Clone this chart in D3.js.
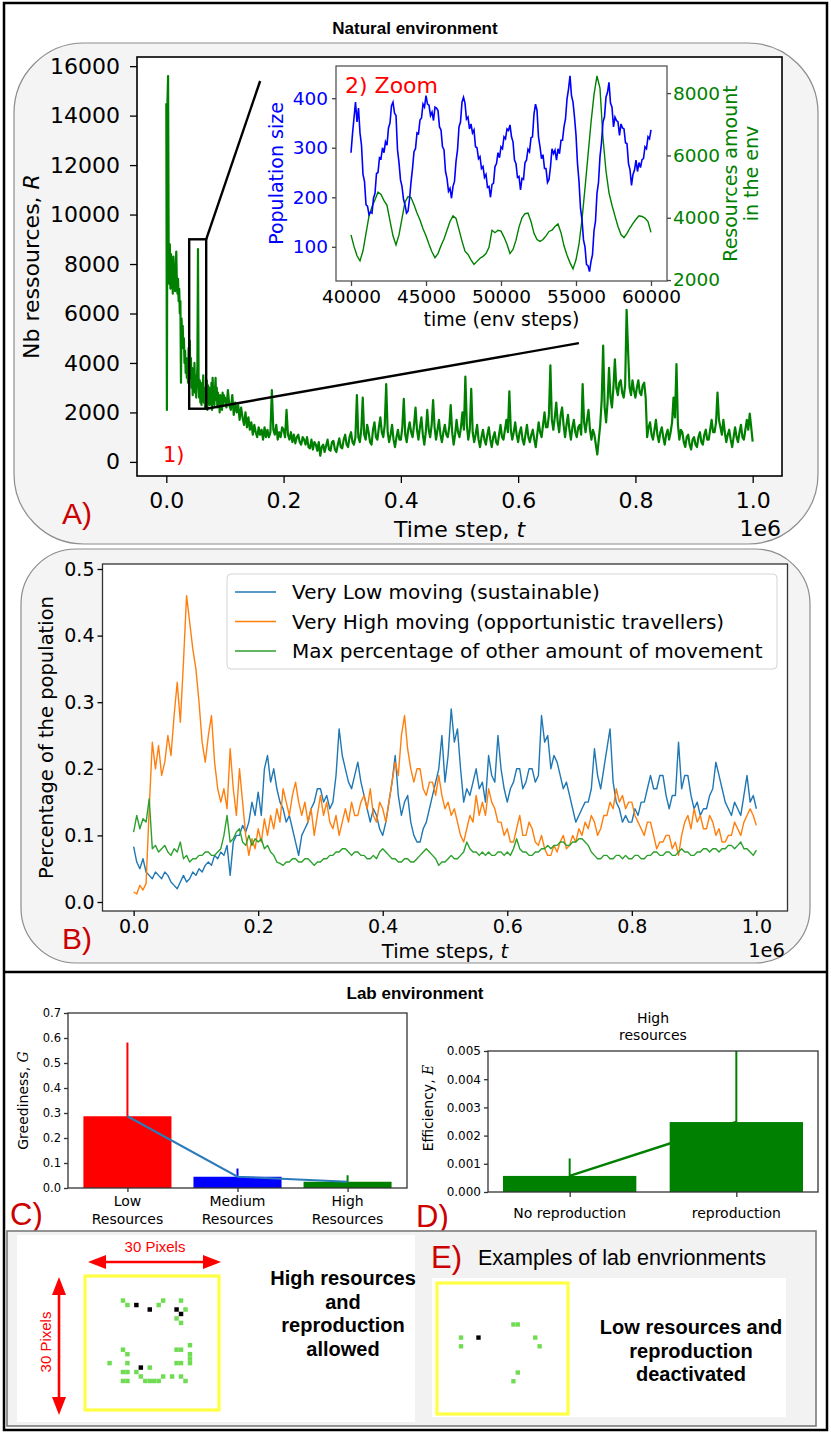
<!DOCTYPE html>
<html><head><meta charset="utf-8">
<script src="https://cdnjs.cloudflare.com/ajax/libs/d3/7.8.5/d3.min.js"></script>
<style>body{margin:0;background:#fff}svg{display:block}</style>
</head><body>
<svg id="fig" width="831" height="1435"></svg>
<script>
// ---------------- DATA ----------------
// Panel A: resources in the natural environment
const resEarlyStep = 1000;            // t = k*1000, k = 0..99
const resourcesEarly = [14500,2100,14600,15600,8500,7200,8800,7000,8400,7200,
 8000,6800,8300,7000,7800,6900,8000,8500,7200,6800,
 7400,6500,7000,6000,6500,3200,5800,5000,5500,4600,
 5000,4000,4500,3600,4200,3400,4000,3200,4600,3600,
 4900,3400,4200,3000,3800,2700,3600,2900,4000,2800,
 3500,2600,3200,3900,8600,3500,2600,3300,2400,3200,
 2300,3000,2600,3500,2400,3000,2200,2900,2500,3300,
 2100,3100,2600,3000,2300,2800,2400,3200,2100,3400,
 2600,3000,2300,2900,3400,2500,3000,2200,2800,2400,
 2600,2000,2700,2200,2500,2100,2800,2300,2700,2500];
const resLateStart = 100000, resLateStep = 2500;   // t = 100000 + k*2500
const resourcesLate = [2600,2200,2900,2300,2100,2700,1900,2400,2000,2300,
 1700,2200,1800,1500,2000,1400,1800,1300,1600,1100,
 1500,1200,1000,1400,1100,1300,900,1400,1000,1300,
 1000,1200,2900,1300,1100,1500,900,1200,1000,1400,
 1300,1000,2100,1100,900,1200,800,1100,750,1000,
 1100,800,700,1000,900,700,1000,600,550,900,
 500,800,700,450,800,250,600,700,400,650,
 900,500,450,800,850,500,400,700,950,600,
 550,900,1100,700,600,1000,1200,800,700,1000,
 2700,1000,800,1300,2600,1100,900,1500,1200,800,
 700,1300,1600,1000,900,1400,1800,1200,1000,1500,
 3150,1200,800,1100,1500,900,600,1000,1300,900,
 900,1400,2550,1100,800,1300,1600,1200,1000,1500,
 2200,1300,900,1400,1800,1100,700,1200,2100,1300,
 1000,1500,2500,1400,900,1300,1700,1100,800,1200,
 1500,1100,1000,1400,2300,1200,700,1100,1700,1200,
 1000,1400,2000,1300,3450,1500,900,1300,2950,1200,
 800,1100,1500,900,600,1000,1300,900,700,1100,
 1400,900,600,1000,1200,800,700,1100,1500,1000,
 900,1300,1700,1200,2850,1300,900,1200,1600,1100,
 800,1200,1400,900,700,1100,1500,1000,800,1100,
 1300,900,600,1100,1600,1200,1000,1500,2000,1400,
 1400,1900,3900,1700,1300,1800,2400,1600,1200,1900,
 2200,1500,1000,1500,1900,1300,900,1400,1700,1200,
 1000,1400,1500,1100,3150,1600,1200,1700,2100,1300,
 900,1300,1100,700,300,900,1500,2500,4700,2200,
 1600,2400,3800,2600,2200,3000,4150,3000,2700,3200,
 3300,2800,2600,3100,6150,4500,3000,2700,3300,2900,
 2600,3000,3300,2800,2700,3100,3200,2600,1000,1400,
 1600,1100,900,1300,1700,1100,800,1200,1400,1000,
 700,1100,1300,900,1200,1600,2600,1800,3950,1500,
 900,1300,1200,800,600,1000,1100,700,500,900,
 1000,700,600,1000,1200,800,700,1100,1300,900,
 900,1300,1700,1200,1200,1600,2800,1700,1400,1100,
 1700,1200,800,1100,1300,900,600,1000,1400,1000,
 800,1200,1500,1000,900,1300,1700,1300,1950,1400,
 820];
// Zoom box (time, resources) and connector end points
const zoomBox = {t0: 39000, t1: 68000, r0: 2150, r1: 9000};
const zoomLineEnds = [[160000, 15400], [703600, 4800]];

// Inset: 40000..60000 env steps
const popStart = 40000, popStep = 100;
const populationSize = [290,328,360,392,352,380,330,305,246,232,
 185,182,165,170,168,198,208,248,250,280,
 278,300,290,312,305,340,350,385,392,370,
 365,296,270,235,222,196,185,168,172,196,
 230,258,292,298,330,328,356,360,388,382,
 405,388,386,365,372,355,382,380,375,342,
 336,302,296,252,238,212,218,198,222,232,
 272,295,342,352,392,402,390,358,362,338,
 348,330,336,302,300,278,282,258,262,240,
 246,220,222,200,226,228,262,268,290,280,
 302,298,322,318,338,335,346,322,312,275,
 268,240,242,215,238,236,270,275,297,292,
 320,322,368,388,376,322,302,278,286,258,
 258,230,236,262,298,288,295,275,298,288,
 315,315,342,358,398,418,445,405,392,362,
 326,268,232,178,155,114,100,64,62,50,
 70,84,132,152,208,230,282,310,352,362,
 402,412,432,390,382,342,362,355,352,325,
 348,340,338,310,308,268,256,224,246,255,
 275,252,270,260,276,278,302,298,322,318,
 336];
const envStart = 40000, envStep = 200;
const resourcesEnv = [3450,3080,2780,2620,2940,3500,4050,4350,4580,4820,
 4750,4550,4400,3900,3420,3130,3450,3980,4500,4680,
 4650,4420,4150,3930,3650,3420,3150,2900,2720,2850,
 3100,3320,3600,3880,4060,3980,3620,3250,2930,2820,
 2650,2500,2600,2700,2760,2850,3050,3600,3520,3600,
 3570,3380,3150,2850,2980,3280,3700,4000,4130,4150,
 3880,3500,3300,3240,3300,3420,3560,3600,3720,3800,
 3520,3100,2800,2560,2360,2650,3150,3950,4950,6000,
 7050,7950,8550,8150,6550,5500,4800,4400,4050,3720,
 3460,3360,3500,3670,3820,3950,4060,4040,3990,3880,
 3530];

// Panel B: share of the population (t = k*5000)
const shareStep = 5000;
const veryLowMoving = [0.083,0.06,0.05,0.065,0.045,0.04,0.035,0.045,0.04,0.035,
 0.045,0.04,0.03,0.025,0.02,0.03,0.04,0.03,0.035,0.045,
 0.04,0.05,0.045,0.055,0.06,0.055,0.07,0.065,0.075,0.07,
 0.085,0.04,0.09,0.1,0.1,0.115,0.105,0.12,0.15,0.13,
 0.165,0.13,0.2,0.22,0.18,0.2,0.17,0.15,0.14,0.12,
 0.13,0.11,0.09,0.07,0.1,0.11,0.12,0.14,0.15,0.17,
 0.17,0.15,0.16,0.14,0.15,0.19,0.26,0.22,0.2,0.18,
 0.17,0.19,0.21,0.18,0.16,0.14,0.12,0.14,0.13,0.11,
 0.1,0.12,0.15,0.18,0.22,0.16,0.13,0.15,0.16,0.12,
 0.1,0.09,0.09,0.11,0.12,0.14,0.16,0.18,0.2,0.25,
 0.18,0.22,0.29,0.24,0.26,0.2,0.15,0.17,0.16,0.18,
 0.2,0.17,0.18,0.15,0.22,0.19,0.18,0.25,0.2,0.17,
 0.15,0.17,0.18,0.2,0.2,0.17,0.18,0.2,0.2,0.18,
 0.19,0.28,0.24,0.25,0.2,0.22,0.21,0.19,0.17,0.18,
 0.16,0.14,0.12,0.13,0.14,0.15,0.15,0.17,0.23,0.19,
 0.17,0.2,0.23,0.26,0.18,0.15,0.14,0.12,0.13,0.12,
 0.12,0.14,0.13,0.15,0.15,0.17,0.19,0.17,0.17,0.19,
 0.19,0.16,0.14,0.16,0.16,0.24,0.17,0.19,0.19,0.16,
 0.14,0.15,0.13,0.14,0.14,0.16,0.17,0.21,0.19,0.17,
 0.15,0.14,0.13,0.15,0.14,0.13,0.16,0.19,0.15,0.16,
 0.14];
const veryHighMoving = [0.015,0.012,0.025,0.018,0.028,0.14,0.24,0.2,0.235,0.19,
 0.21,0.25,0.22,0.28,0.33,0.27,0.36,0.46,0.42,0.38,
 0.35,0.3,0.24,0.21,0.25,0.28,0.21,0.17,0.15,0.17,
 0.14,0.23,0.17,0.13,0.2,0.15,0.1,0.07,0.095,0.08,
 0.11,0.09,0.125,0.1,0.13,0.11,0.14,0.12,0.17,0.15,
 0.13,0.16,0.18,0.15,0.13,0.15,0.12,0.14,0.1,0.13,
 0.16,0.13,0.15,0.12,0.11,0.13,0.1,0.12,0.14,0.12,
 0.15,0.13,0.13,0.15,0.16,0.14,0.17,0.13,0.12,0.15,
 0.14,0.12,0.15,0.18,0.21,0.19,0.25,0.28,0.23,0.2,
 0.18,0.2,0.2,0.17,0.16,0.18,0.18,0.16,0.19,0.16,
 0.14,0.15,0.13,0.14,0.12,0.1,0.09,0.11,0.13,0.12,
 0.16,0.13,0.15,0.13,0.17,0.15,0.14,0.12,0.12,0.1,
 0.11,0.09,0.09,0.11,0.13,0.1,0.1,0.12,0.11,0.09,
 0.085,0.1,0.08,0.07,0.07,0.085,0.075,0.09,0.1,0.08,
 0.085,0.1,0.09,0.11,0.1,0.12,0.11,0.13,0.12,0.1,
 0.11,0.13,0.13,0.15,0.14,0.17,0.15,0.16,0.14,0.15,
 0.15,0.13,0.12,0.11,0.1,0.12,0.12,0.1,0.08,0.09,
 0.09,0.1,0.1,0.08,0.09,0.07,0.1,0.12,0.13,0.11,
 0.14,0.12,0.13,0.11,0.11,0.13,0.12,0.1,0.11,0.09,
 0.09,0.1,0.1,0.12,0.11,0.1,0.12,0.13,0.14,0.13,
 0.115];
const maxOtherMoving = [0.105,0.13,0.11,0.125,0.12,0.155,0.08,0.085,0.075,0.08,
 0.085,0.075,0.07,0.08,0.075,0.09,0.065,0.07,0.06,0.065,
 0.065,0.07,0.07,0.075,0.075,0.07,0.07,0.075,0.08,0.1,
 0.13,0.09,0.095,0.105,0.11,0.09,0.085,0.1,0.085,0.095,
 0.09,0.095,0.08,0.085,0.075,0.07,0.06,0.058,0.055,0.06,
 0.06,0.065,0.065,0.06,0.06,0.065,0.065,0.06,0.055,0.06,
 0.06,0.065,0.065,0.07,0.07,0.075,0.075,0.08,0.08,0.075,
 0.07,0.075,0.075,0.07,0.07,0.065,0.065,0.07,0.065,0.075,
 0.08,0.075,0.07,0.065,0.065,0.06,0.06,0.065,0.065,0.06,
 0.06,0.065,0.07,0.075,0.08,0.075,0.07,0.065,0.055,0.06,
 0.06,0.065,0.07,0.065,0.065,0.07,0.075,0.09,0.08,0.075,
 0.075,0.07,0.075,0.07,0.075,0.07,0.07,0.075,0.075,0.07,
 0.075,0.07,0.08,0.095,0.08,0.075,0.075,0.07,0.07,0.075,
 0.075,0.08,0.08,0.085,0.08,0.085,0.085,0.09,0.09,0.085,
 0.085,0.09,0.09,0.095,0.095,0.09,0.085,0.075,0.07,0.065,
 0.065,0.07,0.07,0.065,0.065,0.07,0.07,0.065,0.07,0.065,
 0.065,0.07,0.07,0.065,0.065,0.07,0.07,0.075,0.075,0.07,
 0.07,0.075,0.075,0.07,0.07,0.075,0.08,0.075,0.075,0.07,
 0.07,0.075,0.075,0.08,0.08,0.075,0.08,0.08,0.075,0.08,
 0.08,0.085,0.085,0.08,0.085,0.09,0.08,0.08,0.075,0.07,
 0.078];
const legendB = ["Very Low moving (sustainable)", "Very High moving (opportunistic travellers)", "Max percentage of other amount of movement"];
const colorsB = ["#1f77b4", "#ff7f0e", "#2ca02c"];

// Panel C: greediness per resource level
const categoriesC = [["Low","Resources"],["Medium","Resources"],["High","Resources"]];
const greedMean = [0.287, 0.045, 0.025];
const greedErr  = [0.295, 0.033, 0.026];
const colorsC = ["#ff0000", "#0000ff", "#008000"];

// Panel D: efficiency, high resources
const categoriesD = ["No reproduction", "reproduction"];
const effMean = [0.00057, 0.00248];
const effErr  = [0.00062, 0.0032];

// Ticks
const ticksAx = [0, 200000, 400000, 600000, 800000, 1000000];
const ticksAy = [0,2000,4000,6000,8000,10000,12000,14000,16000];
const ticksInX = [40000,45000,50000,55000,60000];
const ticksInL = [100,200,300,400];
const ticksInR = [2000,4000,6000,8000];
const ticksBx = [0, 200000, 400000, 600000, 800000, 1000000];
const ticksBy = [0,0.1,0.2,0.3,0.4,0.5];
const ticksCy = [0,0.1,0.2,0.3,0.4,0.5,0.6,0.7];
const ticksDy = [0,0.001,0.002,0.003,0.004,0.005];

// Panel E: example lab grids (30x30 cells)
const highResGreen = [[8,5],[9,6],[16,6],[17,5],[21,5],[22,7],[20,9],[21,10],[8,16],[9,17],[23,15],[23,17],[23,18],[23,19],[20,16],[21,16],[20,19],[21,19],[5,19],[9,19],[11,21],[14,20],[8,21],[9,21],[8,23],[9,23],[12,22],[13,23],[14,23],[15,23],[16,23],[17,22],[19,22],[21,22],[22,23]];
const highResAgents = [[11,6],[14,7],[20,7],[21,8],[12,20]];
const lowResGreen = [[17,9],[18,9],[5,12],[5,14],[22,12],[23,14],[18,20],[17,22]];
const lowResAgents = [[9,12]];

// ---------------- DRAWING ----------------
const DJ = "'DejaVu Sans', sans-serif";
const LS = "'Liberation Sans', Arial, sans-serif";
const SERIF = "'DejaVu Serif', serif";
const svg = d3.select("#fig");
svg.append("rect").attr("width",831).attr("height",1435).attr("fill","#fff");

function text(parent, x, y, parts, o) {
  const t = parent.append("text").attr("x",x).attr("y",y)
    .attr("font-family", o.family || DJ).attr("font-size", o.size)
    .attr("fill", o.fill || "#000").attr("text-anchor", o.anchor || "middle")
    .attr("font-weight", o.weight || "normal");
  if (o.rotate) t.attr("transform", `rotate(${o.rotate},${x},${y})`);
  (Array.isArray(parts) ? parts : [parts]).forEach(p => {
    if (typeof p === "string") t.append("tspan").text(p);
    else { const s = t.append("tspan").text(p.t); if (p.it) s.attr("font-style","italic"); if (p.fam) s.attr("font-family", p.fam); }
  });
  return t;
}
function styleAxis(g, size, color, tickColor) {
  g.attr("font-family", DJ).attr("font-size", size);
  g.select(".domain").remove();
  g.selectAll(".tick line").attr("stroke", tickColor || "#000").attr("stroke-width", 1.3);
  g.selectAll(".tick text").attr("fill", color || "#000");
}
let clipId = 0;
function clip(x, y, w, h) {
  const id = "clip" + (clipId++);
  svg.append("clipPath").attr("id", id).append("rect").attr("x",x).attr("y",y).attr("width",w).attr("height",h);
  return `url(#${id})`;
}

// outer frame
svg.append("rect").attr("x",4).attr("y",3).attr("width",823).attr("height",1427)
  .attr("fill","none").attr("stroke","#000").attr("stroke-width",2.5);
svg.append("line").attr("x1",4).attr("x2",827).attr("y1",972).attr("y2",972)
  .attr("stroke","#000").attr("stroke-width",2.5);
text(svg, 415, 34, "Natural environment", {size:17, family:LS, weight:"bold"});
text(svg, 415, 999, "Lab environment", {size:17, family:LS, weight:"bold"});

// ========== Panel A ==========
svg.append("rect").attr("x",14).attr("y",43).attr("width",804).attr("height",501).attr("rx",70)
  .attr("fill","#f4f4f4").attr("stroke","#8c8c8c").attr("stroke-width",1.2);
const A = {l:137, t:57, r:782, b:476};
const xA = d3.scaleLinear().domain([-50000, 1050000]).range([A.l, A.r]);
const yA = d3.scaleLinear().domain([-570, 16370]).range([A.b, A.t]);
svg.append("rect").attr("x",A.l).attr("y",A.t).attr("width",A.r-A.l).attr("height",A.b-A.t).attr("fill","#fff");
const resSeries = resourcesEarly.map((v,k)=>({t:k*resEarlyStep, v}))
  .concat(resourcesLate.map((v,k)=>({t:resLateStart + k*resLateStep, v})));
svg.append("path").datum(resSeries).attr("clip-path", clip(A.l,A.t,A.r-A.l,A.b-A.t))
  .attr("d", d3.line().x(d=>xA(d.t)).y(d=>yA(d.v)))
  .attr("fill","none").attr("stroke","#008000").attr("stroke-width",2.2).attr("stroke-linejoin","round");
// zoom box + connectors
svg.append("rect").attr("x",xA(zoomBox.t0)).attr("y",yA(zoomBox.r1))
  .attr("width",xA(zoomBox.t1)-xA(zoomBox.t0)).attr("height",yA(zoomBox.r0)-yA(zoomBox.r1))
  .attr("fill","none").attr("stroke","#000").attr("stroke-width",2.4);
svg.append("line").attr("x1",xA(zoomBox.t1)).attr("y1",yA(zoomBox.r1))
  .attr("x2",xA(zoomLineEnds[0][0])).attr("y2",yA(zoomLineEnds[0][1])).attr("stroke","#000").attr("stroke-width",2.4);
svg.append("line").attr("x1",xA(zoomBox.t1)).attr("y1",yA(zoomBox.r0))
  .attr("x2",xA(zoomLineEnds[1][0])).attr("y2",yA(zoomLineEnds[1][1])).attr("stroke","#000").attr("stroke-width",2.4);
svg.append("rect").attr("x",A.l).attr("y",A.t).attr("width",A.r-A.l).attr("height",A.b-A.t)
  .attr("fill","none").attr("stroke","#000").attr("stroke-width",1.6);
styleAxis(svg.append("g").attr("transform",`translate(${A.l},0)`)
  .call(d3.axisLeft(yA).tickValues(ticksAy).tickSize(7).tickPadding(10).tickFormat(d3.format("d"))), 22);
styleAxis(svg.append("g").attr("transform",`translate(0,${A.b})`)
  .call(d3.axisBottom(xA).tickValues(ticksAx).tickSize(7).tickPadding(9).tickFormat(d=>d3.format(".1f")(d/1e6))), 22);
text(svg, 39, (A.t+A.b)/2, ["Nb ressources, ", {t:"R", it:true}], {size:22, rotate:-90});
text(svg, (A.l+A.r)/2, 537, ["Time step, ", {t:"t", it:true}], {size:22});
text(svg, 781, 536, "1e6", {size:22, anchor:"end"});
text(svg, 163, 462, "1)", {size:21, fill:"#ff0000", anchor:"start"});
text(svg, 62, 524, "A)", {size:30, fill:"#cc0000", anchor:"start", family:LS});

// ---- inset ----
const I = {l:336, t:66, r:667, b:281};
const xI = d3.scaleLinear().domain([39000, 61067]).range([I.l, I.r]);
const yIb = d3.scaleLinear().domain([31, 465]).range([I.b, I.t]);
const yIg = d3.scaleLinear().domain([1970, 8870]).range([I.b, I.t]);
svg.append("rect").attr("x",I.l).attr("y",I.t).attr("width",I.r-I.l).attr("height",I.b-I.t).attr("fill","#fff");
const cI = clip(I.l,I.t,I.r-I.l,I.b-I.t);
svg.append("path").datum(resourcesEnv.map((v,k)=>({t:envStart+k*envStep, v}))).attr("clip-path",cI)
  .attr("d", d3.line().x(d=>xI(d.t)).y(d=>yIg(d.v)))
  .attr("fill","none").attr("stroke","#008000").attr("stroke-width",1.4);
svg.append("path").datum(populationSize.map((v,k)=>({t:popStart+k*popStep, v}))).attr("clip-path",cI)
  .attr("d", d3.line().x(d=>xI(d.t)).y(d=>yIb(d.v)))
  .attr("fill","none").attr("stroke","#0000ff").attr("stroke-width",1.6);
svg.append("rect").attr("x",I.l).attr("y",I.t).attr("width",I.r-I.l).attr("height",I.b-I.t)
  .attr("fill","none").attr("stroke","#555").attr("stroke-width",1.3);
styleAxis(svg.append("g").attr("transform",`translate(0,${I.b})`)
  .call(d3.axisBottom(xI).tickValues(ticksInX).tickSize(5).tickPadding(4).tickFormat(d3.format("d"))), 18.5, "#000", "#444");
styleAxis(svg.append("g").attr("transform",`translate(${I.l},0)`)
  .call(d3.axisLeft(yIb).tickValues(ticksInL).tickSize(4).tickPadding(4).tickFormat(d3.format("d"))), 18.5, "#0000ff", "#444");
styleAxis(svg.append("g").attr("transform",`translate(${I.r},0)`)
  .call(d3.axisRight(yIg).tickValues(ticksInR).tickSize(4).tickPadding(2).tickFormat(d3.format("d"))), 18.5, "#008000", "#444");
text(svg, (I.l+I.r)/2, 326, "time (env steps)", {size:19});
text(svg, 283, (I.t+I.b)/2, "Population size", {size:19, fill:"#0000ff", rotate:-90});
text(svg, 737, (I.t+I.b)/2, "Resources amount", {size:19, fill:"#008000", rotate:-90});
text(svg, 758, (I.t+I.b)/2, "in the env", {size:19, fill:"#008000", rotate:-90});
text(svg, 345, 93, "2) Zoom", {size:22, fill:"#ff0000", anchor:"start"});

// ========== Panel B ==========
svg.append("rect").attr("x",21).attr("y",549).attr("width",789).attr("height",414).attr("rx",55)
  .attr("fill","#f4f4f4").attr("stroke","#8c8c8c").attr("stroke-width",1.2);
const B = {l:102.5, t:564, r:787.5, b:911};
const xB = d3.scaleLinear().domain([-50000, 1050000]).range([B.l, B.r]);
const yB = d3.scaleLinear().domain([-0.0135, 0.5075]).range([B.b, B.t]);
svg.append("rect").attr("x",B.l).attr("y",B.t).attr("width",B.r-B.l).attr("height",B.b-B.t).attr("fill","#fff");
const cB = clip(B.l,B.t,B.r-B.l,B.b-B.t);
[veryLowMoving, veryHighMoving, maxOtherMoving].forEach((s,i)=>{
  svg.append("path").datum(s.map((v,k)=>({t:k*shareStep, v}))).attr("clip-path",cB)
    .attr("d", d3.line().x(d=>xB(d.t)).y(d=>yB(d.v)))
    .attr("fill","none").attr("stroke",colorsB[i]).attr("stroke-width",1.4).attr("stroke-linejoin","round");
});
svg.append("rect").attr("x",B.l).attr("y",B.t).attr("width",B.r-B.l).attr("height",B.b-B.t)
  .attr("fill","none").attr("stroke","#333").attr("stroke-width",1.3);
styleAxis(svg.append("g").attr("transform",`translate(${B.l},0)`)
  .call(d3.axisLeft(yB).tickValues(ticksBy).tickSize(5).tickPadding(3).tickFormat(d3.format(".1f"))), 19);
styleAxis(svg.append("g").attr("transform",`translate(0,${B.b})`)
  .call(d3.axisBottom(xB).tickValues(ticksBx).tickSize(5).tickPadding(4).tickFormat(d=>d3.format(".1f")(d/1e6))), 19);
text(svg, 53, (B.t+B.b)/2, "Percentage of the population", {size:19.5, rotate:-90});
text(svg, (B.l+B.r)/2, 958, ["Time steps, ", {t:"t", it:true}], {size:19.5});
text(svg, 785, 957, "1e6", {size:19.5, anchor:"end"});
text(svg, 62, 949, "B)", {size:30, fill:"#cc0000", anchor:"start", family:LS});
// legend
const lg = svg.append("g");
lg.append("rect").attr("x",227).attr("y",574).attr("width",550).attr("height",95).attr("rx",4)
  .attr("fill","#fff").attr("fill-opacity",0.85).attr("stroke","#d4d4d4");
legendB.forEach((name,i)=>{
  const y = 592 + i*29.5;
  lg.append("line").attr("x1",235).attr("x2",276).attr("y1",y).attr("y2",y).attr("stroke",colorsB[i]).attr("stroke-width",1.6);
  text(lg, 292, y+7, name, {size:20, anchor:"start"});
});

// ========== Panel C ==========
const C = {l:68, t:1013, r:407, b:1188};
const xC = d3.scaleLinear().domain([-0.54, 2.54]).range([C.l, C.r]);
const yC = d3.scaleLinear().domain([0, 0.7]).range([C.b, C.t]);
const cC = clip(C.l,C.t,C.r-C.l,C.b-C.t);
greedMean.forEach((m,i)=>{
  svg.append("rect").attr("x",xC(i-0.4)).attr("y",yC(m)).attr("width",xC(0.8)-xC(0)).attr("height",yC(0)-yC(m)).attr("fill",colorsC[i]);
});
greedMean.forEach((m,i)=>{
  svg.append("line").attr("clip-path",cC).attr("x1",xC(i)).attr("x2",xC(i))
    .attr("y1",yC(Math.max(0,m-greedErr[i]))).attr("y2",yC(m+greedErr[i])).attr("stroke",colorsC[i]).attr("stroke-width",2);
});
svg.append("path").datum(greedMean).attr("d", d3.line().x((d,i)=>xC(i)).y(d=>yC(d)))
  .attr("fill","none").attr("stroke","#2b7bba").attr("stroke-width",2);
svg.append("rect").attr("x",C.l).attr("y",C.t).attr("width",C.r-C.l).attr("height",C.b-C.t)
  .attr("fill","none").attr("stroke","#333").attr("stroke-width",1.3);
styleAxis(svg.append("g").attr("transform",`translate(${C.l},0)`)
  .call(d3.axisLeft(yC).tickValues(ticksCy).tickSize(4).tickPadding(3).tickFormat(d3.format(".1f"))), 11.5, "#000", "#333");
styleAxis(svg.append("g").attr("transform",`translate(0,${C.b})`)
  .call(d3.axisBottom(xC).tickValues([0,1,2]).tickSize(4).tickFormat("")), 11.5, "#000", "#333");
categoriesC.forEach((c,i)=>{
  text(svg, xC(i), 1206, c[0], {size:14});
  text(svg, xC(i), 1224, c[1], {size:14});
});
text(svg, 28, (C.t+C.b)/2, ["Greediness, ", {t:"G", it:true, fam:SERIF}], {size:14, rotate:-90});
text(svg, 10, 1225, "C)", {size:31, fill:"#cc0000", anchor:"start", family:LS});

// ========== Panel D ==========
const D = {l:488, t:1051, r:818, b:1192};
const xD = d3.scaleLinear().domain([-0.49, 1.49]).range([D.l, D.r]);
const yD = d3.scaleLinear().domain([0, 0.005]).range([D.b, D.t]);
const cD = clip(D.l,D.t,D.r-D.l,D.b-D.t);
effMean.forEach((m,i)=>{
  svg.append("rect").attr("x",xD(i-0.4)).attr("y",yD(m)).attr("width",xD(0.8)-xD(0)).attr("height",yD(0)-yD(m)).attr("fill","#008000");
  svg.append("line").attr("clip-path",cD).attr("x1",xD(i)).attr("x2",xD(i))
    .attr("y1",yD(Math.max(0,m-effErr[i]))).attr("y2",yD(m+effErr[i])).attr("stroke","#008000").attr("stroke-width",2);
});
svg.append("path").datum(effMean).attr("d", d3.line().x((d,i)=>xD(i)).y(d=>yD(d)))
  .attr("fill","none").attr("stroke","#008000").attr("stroke-width",2.5);
svg.append("rect").attr("x",D.l).attr("y",D.t).attr("width",D.r-D.l).attr("height",D.b-D.t)
  .attr("fill","none").attr("stroke","#333").attr("stroke-width",1.3);
styleAxis(svg.append("g").attr("transform",`translate(${D.l},0)`)
  .call(d3.axisLeft(yD).tickValues(ticksDy).tickSize(4).tickPadding(3).tickFormat(d3.format(".3f"))), 12, "#000", "#333");
styleAxis(svg.append("g").attr("transform",`translate(0,${D.b})`)
  .call(d3.axisBottom(xD).tickValues([0,1]).tickSize(5).tickFormat("")), 12, "#000", "#333");
categoriesD.forEach((c,i)=> text(svg, xD(i), 1218, c, {size:14}));
text(svg, (D.l+D.r)/2, 1023, "High", {size:14});
text(svg, (D.l+D.r)/2, 1040, "resources", {size:14});
text(svg, 433, 1108, ["Efficiency, ", {t:"E", it:true, fam:SERIF}], {size:14, rotate:-90});
text(svg, 416, 1227, "D)", {size:31, fill:"#cc0000", anchor:"start", family:LS});

// ========== Panel E ==========
svg.append("rect").attr("x",7).attr("y",1231).attr("width",809).attr("height",195)
  .attr("fill","#f2f2f2").attr("stroke","#7a7a7a").attr("stroke-width",1.6);
svg.append("rect").attr("x",17).attr("y",1235).attr("width",398).attr("height",187).attr("fill","#fff");
svg.append("rect").attr("x",432).attr("y",1278).attr("width",354).attr("height",139).attr("fill","#fff");
function grid(x0, y0, size, greens, agents) {
  const s = d3.scaleLinear().domain([0,30]);
  const sx = s.copy().range([x0, x0+size]), sy = s.copy().range([y0, y0+size]);
  const cw = sx(1)-sx(0);
  svg.append("g").selectAll("rect").data(greens).join("rect")
    .attr("x",d=>sx(d[0])).attr("y",d=>sy(d[1])).attr("width",cw).attr("height",cw).attr("fill","#6fdc52");
  svg.append("g").selectAll("rect").data(agents).join("rect")
    .attr("x",d=>sx(d[0])).attr("y",d=>sy(d[1])).attr("width",cw).attr("height",cw).attr("fill","#000");
  svg.append("rect").attr("x",x0).attr("y",y0).attr("width",size).attr("height",size)
    .attr("fill","none").attr("stroke","#ffff44").attr("stroke-width",3.2);
}
grid(85, 1276, 134, highResGreen, highResAgents);
grid(437, 1283, 131, lowResGreen, lowResAgents);
// red arrows
const red = "#ff0000";
svg.append("line").attr("x1",100).attr("x2",209).attr("y1",1262).attr("y2",1262).attr("stroke",red).attr("stroke-width",2.6);
svg.append("polygon").attr("points","88,1262 106,1255 106,1269").attr("fill",red);
svg.append("polygon").attr("points","221,1262 203,1255 203,1269").attr("fill",red);
svg.append("line").attr("x1",59).attr("x2",59).attr("y1",1289).attr("y2",1403).attr("stroke",red).attr("stroke-width",2.6);
svg.append("polygon").attr("points","59,1277 52,1295 66,1295").attr("fill",red);
svg.append("polygon").attr("points","59,1415 52,1397 66,1397").attr("fill",red);
text(svg, 155, 1252, "30 Pixels", {size:15, fill:red, family:LS});
text(svg, 51, 1342, "30 Pixels", {size:15, fill:red, family:LS, rotate:-90});
["High resources","and","reproduction","allowed"].forEach((s,i)=>
  text(svg, 343, 1285 + i*23.7, s, {size:20, family:LS, weight:"bold"}));
["Low resources and","reproduction","deactivated"].forEach((s,i)=>
  text(svg, 691, 1334 + i*23.5, s, {size:20, family:LS, weight:"bold"}));
text(svg, 431, 1268, "E)", {size:31, fill:"#cc0000", anchor:"start", family:LS});
text(svg, 478, 1265, "Examples of lab envrionments", {size:21.5, family:LS, anchor:"start"});
</script></body></html>
